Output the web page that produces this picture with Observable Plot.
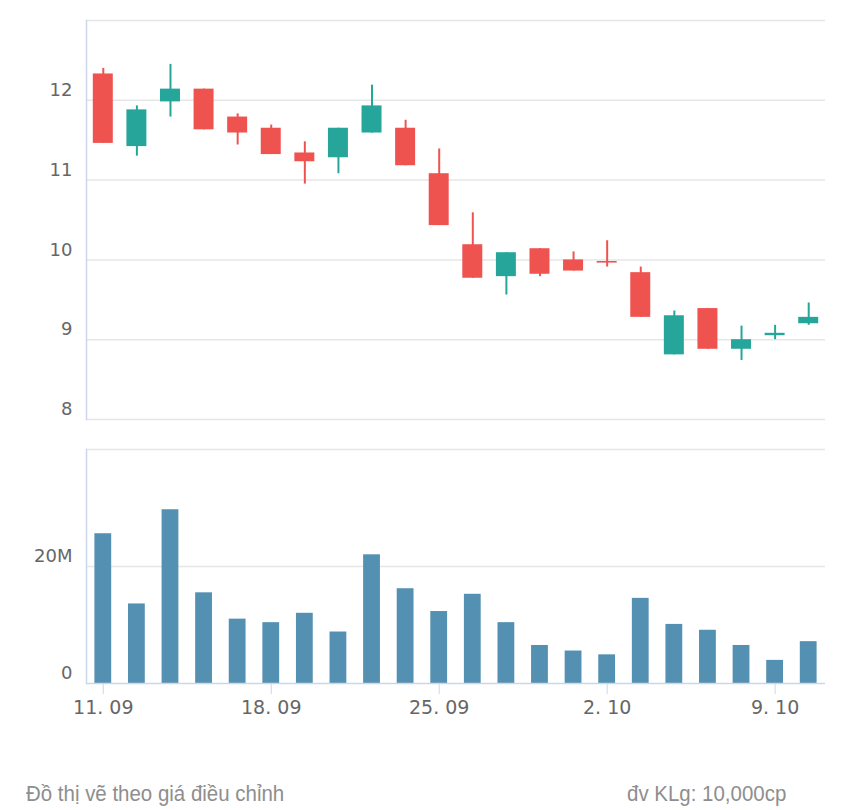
<!DOCTYPE html>
<html>
<head>
<meta charset="utf-8">
<script src="https://cdn.jsdelivr.net/npm/d3@7"></script>
<script src="https://cdn.jsdelivr.net/npm/@observablehq/plot@0.6"></script>
<style>
  html, body { margin: 0; padding: 0; background: #fff; }
  #wrap { position: relative; width: 860px; height: 810px; overflow: hidden; }
  #price, #volume { position: absolute; left: 0; }
  #price { top: 0; }
  #volume { top: 430px; }
  .note { position: absolute; top: 781px; font-family: "Liberation Sans", Arial, sans-serif; font-size: 22px; color: #8e8e8e; white-space: nowrap; transform: scaleX(0.93); transform-origin: left top; }
  #noteLeft { left: 26px; }
  #noteRight { left: 627px; }
</style>
</head>
<body>
<div id="wrap">
  <div id="price"></div>
  <div id="volume"></div>
  <div class="note" id="noteLeft">Đồ thị vẽ theo giá điều chỉnh</div>
  <div class="note" id="noteRight">đv KLg: 10,000cp</div>
</div>
<script>
// ---- data ----
const dates = [
  "2023-09-11","2023-09-12","2023-09-13","2023-09-14","2023-09-15",
  "2023-09-18","2023-09-19","2023-09-20","2023-09-21","2023-09-22",
  "2023-09-25","2023-09-26","2023-09-27","2023-09-28","2023-09-29",
  "2023-10-02","2023-10-03","2023-10-04","2023-10-05","2023-10-06",
  "2023-10-09","2023-10-10"
];
const open  = [12.33, 11.42, 11.98, 12.14, 11.79, 11.65, 11.34, 11.28, 11.59, 11.65, 11.08, 10.19, 9.79, 10.14, 10.00, 9.98, 9.84, 8.81, 9.39, 8.88, 9.05, 9.20];
const high  = [12.40, 11.93, 12.45, 12.14, 11.83, 11.69, 11.48, 11.65, 12.19, 11.75, 11.39, 10.59, 10.09, 10.14, 10.10, 10.24, 9.91, 9.36, 9.39, 9.17, 9.18, 9.46];
const low   = [11.46, 11.30, 11.79, 11.63, 11.44, 11.32, 10.95, 11.08, 11.59, 11.18, 10.43, 9.77, 9.56, 9.79, 9.86, 9.91, 9.28, 8.81, 8.88, 8.74, 9.00, 9.18];
const close = [11.46, 11.88, 12.14, 11.63, 11.59, 11.32, 11.23, 11.65, 11.93, 11.18, 10.43, 9.77, 10.09, 9.82, 9.86, 9.96, 9.28, 9.30, 8.88, 9.00, 9.08, 9.28];
const volumeM = [25.6, 13.6, 29.7, 15.5, 11.0, 10.4, 12.0, 8.8, 22.0, 16.2, 12.3, 15.25, 10.4, 6.5, 5.55, 4.9, 14.55, 10.1, 9.1, 6.5, 3.95, 7.15];

const priceTicks = [8, 9, 10, 11, 12];
const priceGrid = [8, 9, 10, 11, 12, 13];
const volumeTicks = [0, 20];
const volumeGrid = [20, 40];
const dateTicks = ["2023-09-11", "2023-09-18", "2023-09-25", "2023-10-02", "2023-10-09"];
const dateTickLabels = ["11. 09", "18. 09", "25. 09", "2. 10", "9. 10"];

// ---- table ----
const rows = dates.map((d, i) => ({
  date: d, open: open[i], high: high[i], low: low[i], close: close[i], volume: volumeM[i]
}));

const UP = "#26a69a", DOWN = "#ef5350", VOL = "#5390b1";
const GRID = "#e6e6e6", AXIS = "#ccd6eb";
const colorOf = d => d.close >= d.open ? UP : DOWN;

const commonStyle = { fontFamily: "DejaVu Sans, sans-serif", fontSize: "18px", color: "#666", background: "transparent", overflow: "visible" };

const price = Plot.plot({
  width: 860, height: 430,
  marginTop: 20, marginBottom: 11, marginLeft: 86, marginRight: 35,
  style: commonStyle,
  x: { type: "band", domain: dates, round: false, paddingInner: 0.405, paddingOuter: 0.2025, axis: null },
  y: { domain: [8, 13], axis: null },
  marks: [
    Plot.ruleY(priceGrid, { stroke: GRID, strokeWidth: 1.5 }),
    Plot.frame({ anchor: "left", stroke: AXIS, strokeWidth: 1.5 }),
    Plot.axisY(priceTicks, { label: null, tickSize: 0, tickPadding: 14, dy: -10, tickFormat: d => String(d) }),
    Plot.ruleX(rows, { x: "date", y1: "low", y2: "high", stroke: colorOf, strokeWidth: 2 }),
    Plot.barY(rows, { x: "date", y1: "open", y2: "close", fill: colorOf })
  ]
});
document.getElementById("price").appendChild(price);

const volume = Plot.plot({
  width: 860, height: 310,
  marginTop: 19, marginBottom: 57, marginLeft: 86, marginRight: 35,
  style: commonStyle,
  x: { type: "band", domain: dates, round: false, paddingInner: 0.5, paddingOuter: 0.25, axis: null },
  y: { domain: [0, 40], axis: null },
  marks: [
    Plot.ruleY(volumeGrid, { stroke: GRID, strokeWidth: 1.5 }),
    Plot.frame({ anchor: "left", stroke: AXIS, strokeWidth: 1.5 }),
    Plot.axisY(volumeTicks, { label: null, tickSize: 0, tickPadding: 14, dy: -10, tickFormat: d => d === 0 ? "0" : d + "M" }),
    Plot.barY(rows, { x: "date", y: "volume", fill: VOL }),
    Plot.ruleY([0], { stroke: AXIS, strokeWidth: 1.5 }),
    Plot.axisX(dateTicks, { label: null, tickSize: 11, tickPadding: 6, stroke: AXIS, fontSize: "19px",
      tickFormat: d => dateTickLabels[dateTicks.indexOf(d)] })
  ]
});
document.getElementById("volume").appendChild(volume);
</script>
</body>
</html>
